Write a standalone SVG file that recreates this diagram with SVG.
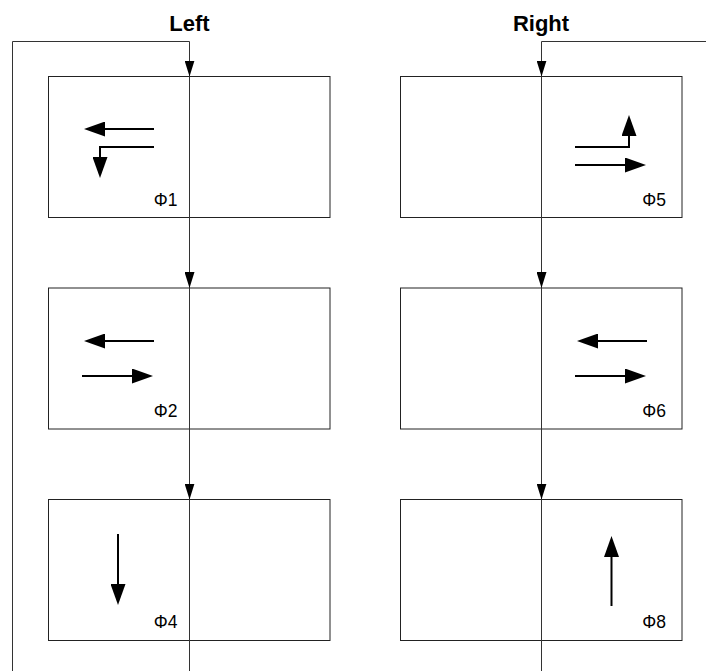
<svg xmlns="http://www.w3.org/2000/svg" width="706" height="671" viewBox="0 0 706 671">
<style>
.box{fill:#fff;stroke:#222;stroke-width:1}
.flow{fill:none;stroke:#333;stroke-width:1}
.mv{fill:none;stroke:#000;stroke-width:2}
.lbl{font-family:"Liberation Sans",Arial,sans-serif;font-size:17.5px;fill:#000}
.title{font-family:"Liberation Sans",Arial,sans-serif;font-size:22px;font-weight:bold;fill:#000}
</style>
<defs>
<marker id="mainHead" viewBox="0 0 16 10" refX="16" refY="5" markerWidth="16" markerHeight="10" markerUnits="userSpaceOnUse" orient="auto">
<path d="M0,0 L16,5 L0,10 z" fill="#000"/>
</marker>
<marker id="smallHead" viewBox="0 0 21 15" refX="17" refY="7.5" markerWidth="21" markerHeight="15" markerUnits="userSpaceOnUse" orient="auto">
<path d="M0,0 L21,7.5 L0,15 z" fill="#000"/>
</marker>
</defs>
<rect width="706" height="671" fill="#fff"/>
<text class="title" x="189.5" y="31" text-anchor="middle">Left</text>
<text class="title" x="541" y="31" text-anchor="middle">Right</text>

<g id="phase1">
<rect class="box" x="48.5" y="76.5" width="281.5" height="141"/>
<path class="mv" d="M154,129 L88,129" marker-end="url(#smallHead)"/>
<path class="mv" d="M154,147 L100,147 L100,174" marker-end="url(#smallHead)"/>
<text class="lbl" x="177.5" y="205.5" text-anchor="end">Φ1</text>
</g>
<g id="phase2">
<rect class="box" x="48.5" y="288" width="281.5" height="141"/>
<path class="mv" d="M154,341 L88,341" marker-end="url(#smallHead)"/>
<path class="mv" d="M82,376 L149,376" marker-end="url(#smallHead)"/>
<text class="lbl" x="177.5" y="416.5" text-anchor="end">Φ2</text>
</g>
<g id="phase4">
<rect class="box" x="48.5" y="499.5" width="281.5" height="141"/>
<path class="mv" d="M118,534 L118,601" marker-end="url(#smallHead)"/>
<text class="lbl" x="177.5" y="628" text-anchor="end">Φ4</text>
</g>
<g id="phase5">
<rect class="box" x="400.5" y="76.5" width="281.5" height="141"/>
<path class="mv" d="M575,147 L629,147 L629,119" marker-end="url(#smallHead)"/>
<path class="mv" d="M575,165 L642,165" marker-end="url(#smallHead)"/>
<text class="lbl" x="666" y="205.5" text-anchor="end">Φ5</text>
</g>
<g id="phase6">
<rect class="box" x="400.5" y="288" width="281.5" height="141"/>
<path class="mv" d="M647,341 L581,341" marker-end="url(#smallHead)"/>
<path class="mv" d="M575,376 L642,376" marker-end="url(#smallHead)"/>
<text class="lbl" x="666" y="416.5" text-anchor="end">Φ6</text>
</g>
<g id="phase8">
<rect class="box" x="400.5" y="499.5" width="281.5" height="141"/>
<path class="mv" d="M611.5,606 L611.5,540" marker-end="url(#smallHead)"/>
<text class="lbl" x="666" y="628" text-anchor="end">Φ8</text>
</g>

<g id="connectors">
<path class="flow" d="M12.5,671 L12.5,41.5 L189.5,41.5 L189.5,76.5" marker-end="url(#mainHead)"/>
<path class="flow" d="M189.5,76.5 L189.5,288" marker-end="url(#mainHead)"/>
<path class="flow" d="M189.5,288 L189.5,499.5" marker-end="url(#mainHead)"/>
<path class="flow" d="M189.5,499.5 L189.5,671"/>
<path class="flow" d="M706,41.5 L541.5,41.5 L541.5,76.5" marker-end="url(#mainHead)"/>
<path class="flow" d="M541.5,76.5 L541.5,288" marker-end="url(#mainHead)"/>
<path class="flow" d="M541.5,288 L541.5,499.5" marker-end="url(#mainHead)"/>
<path class="flow" d="M541.5,499.5 L541.5,671"/>
</g>
</svg>
